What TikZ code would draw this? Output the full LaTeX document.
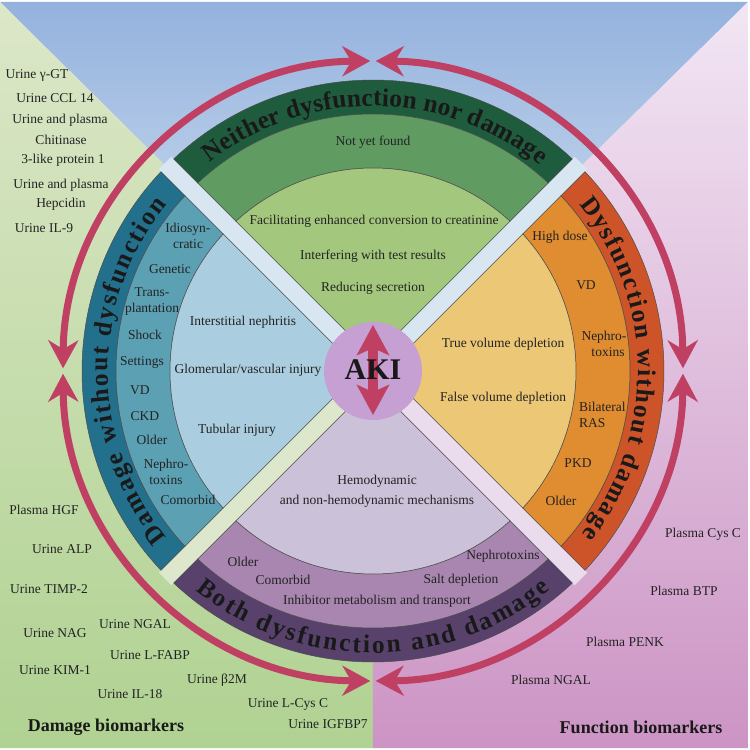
\documentclass[tikz,border=0pt]{standalone}
\usepackage{fontspec}
\setmainfont{Liberation Serif}
\usetikzlibrary{decorations.text,arrows.meta}
\definecolor{topdark}{RGB}{31,92,62}
\definecolor{topmid}{RGB}{96,155,98}
\definecolor{topin}{RGB}{163,200,125}
\definecolor{leftdark}{RGB}{35,112,140}
\definecolor{leftmid}{RGB}{92,160,180}
\definecolor{leftin}{RGB}{170,206,224}
\definecolor{rightdark}{RGB}{204,84,40}
\definecolor{rightmid}{RGB}{224,140,48}
\definecolor{rightin}{RGB}{236,200,118}
\definecolor{botdark}{RGB}{88,66,108}
\definecolor{botmid}{RGB}{168,134,176}
\definecolor{botin}{RGB}{203,193,216}
\definecolor{akifill}{RGB}{198,160,210}
\definecolor{arrowcol}{RGB}{192,64,100}
\definecolor{gapblue}{RGB}{216,230,241}
\definecolor{gapgreen}{RGB}{220,231,203}
\definecolor{gappink}{RGB}{234,219,237}
\definecolor{bgbluetop}{RGB}{148,178,222}
\definecolor{bgbluebot}{RGB}{222,234,244}
\definecolor{bggreentop}{RGB}{220,231,200}
\definecolor{bggreenbot}{RGB}{176,210,146}
\definecolor{bgpinktop}{RGB}{242,230,244}
\definecolor{bgpinkbot}{RGB}{204,148,196}
\definecolor{txt}{RGB}{35,35,35}
\newcommand\bandfont{\fontsize{25.5}{25.5}\selectfont\bfseries}
\newcommand\sectorfill[3]{%
  \path[sectorline, fill=#1] (46.77:291) arc[start angle=46.77, end angle=133.23, radius=291]
     -- (132.99:257) arc[start angle=132.99, end angle=47.01, radius=257] -- cycle;
  \path[sectorline, fill=#2] (47.01:257) arc[start angle=47.01, end angle=132.99, radius=257]
     -- (132.46:203) arc[start angle=132.46, end angle=47.54, radius=203] -- cycle;
  \path[sectorline, fill=#3] (0,12.73) -- (47.54:203) arc[start angle=47.54, end angle=132.46, radius=203] -- cycle;
}
\begin{document}
\begin{tikzpicture}[x=1pt,y=1pt,
  lbl/.style={font=\fontsize{13.5}{16}\selectfont, text=txt, align=center, inner sep=0pt},
  head/.style={font=\fontsize{18}{20}\selectfont\bfseries, text=black!90, inner sep=0pt},
  sectorline/.style={draw=black!70, line width=0.5pt},
  ring/.style={draw=arrowcol, line width=7pt,
     {Stealth[length=28pt,width=30pt,inset=9pt]}-{Stealth[length=28pt,width=30pt,inset=9pt]}},
  bandtext/.style={decorate, decoration={text along path, text align={fit to path}, text color=black!90}}
]
\useasboundingbox (-373,-379) rectangle (377,371);
\fill[white] (-373,-379) rectangle (377,371);
% background
\shade[top color=bgbluetop, bottom color=bgbluebot] (-373,369) -- (375,369) -- (0,0) -- cycle;
\shade[top color=bggreentop, bottom color=bggreenbot] (-373,369) -- (0,0) -- (0,-377) -- (-373,-377) -- cycle;
\shade[top color=bgpinktop, bottom color=bgpinkbot] (375,369) -- (0,0) -- (0,-377) -- (375,-377) -- cycle;
% gaps
\fill[gapblue, rotate=135] (0,-9) rectangle (294,9);
\fill[gapblue, rotate=45] (0,-9) rectangle (294,9);
\fill[gapgreen, rotate=225] (0,-9) rectangle (294,9);
\fill[gappink, rotate=-45] (0,-9) rectangle (294,9);
% sectors
\begin{scope}\sectorfill{topdark}{topmid}{topin}\end{scope}
\begin{scope}[rotate=90]\sectorfill{leftdark}{leftmid}{leftin}\end{scope}
\begin{scope}[rotate=180]\sectorfill{botdark}{botmid}{botin}\end{scope}
\begin{scope}[rotate=-90]\sectorfill{rightdark}{rightmid}{rightin}\end{scope}
% band texts
\path[bandtext, decoration={text={|\bandfont|Neither dysfunction nor damage}}]
  (128:265) arc[start angle=128, end angle=51, radius=265];
\path[bandtext, decoration={text={|\bandfont|Damage without dysfunction}}]
  (219:265) arc[start angle=219, end angle=141, radius=265];
\path[bandtext, decoration={text={|\bandfont|Dysfunction without damage}}]
  (39:265) arc[start angle=39, end angle=-38, radius=265];
\path[bandtext, decoration={text={|\bandfont|Both dysfunction and damage}}]
  (231:282) arc[start angle=231, end angle=309, radius=282];
% ring arrows
\coordinate (ptop) at (90:310);
\coordinate (pleft) at (180:310);
\coordinate (pbot) at (270:310);
\coordinate (pright) at (0:310);
\draw[ring] (90.5:310) arc[start angle=90.5, end angle=179.5, radius=310];
\draw[ring] (180.5:310) arc[start angle=180.5, end angle=269.5, radius=310];
\draw[ring] (270.5:310) arc[start angle=270.5, end angle=359.5, radius=310];
\draw[ring] (0.5:310) arc[start angle=0.5, end angle=89.5, radius=310];
% AKI
\node[circle, fill=akifill, minimum size=98pt, inner sep=0pt] (akic) at (0,0) {};
\coordinate (akitop) at (0,46);
\coordinate (akibot) at (0,-44);
\draw[arrowcol, line width=10pt, {Stealth[length=30pt,width=32pt,inset=7pt]}-{Stealth[length=30pt,width=32pt,inset=7pt]}] (akibot) -- (akitop);
\node[font=\fontsize{30}{30}\selectfont\bfseries, text=black!90, inner sep=0pt] (aki) at (0,1) {AKI};
% top sector texts
\node[lbl] (t1) at (0,229) {Not yet found};
\node[lbl] (t2) at (1,150) {Facilitating enhanced conversion to creatinine};
\node[lbl] (t3) at (0,115) {Interfering with test results};
\node[lbl] (t4) at (0,83) {Reducing secretion};
% left sector texts
\node[lbl] (l1) at (-185,135) {Idiosyn-\\cratic};
\node[lbl] (l2) at (-203,102) {Genetic};
\node[lbl] (l3) at (-221,69) {Trans-\\plantation};
\node[lbl] (l4) at (-228,36) {Shock};
\node[lbl] (l5) at (-231,9) {Settings};
\node[lbl] (l6) at (-233,-19) {VD};
\node[lbl] (l7) at (-228,-45) {CKD};
\node[lbl] (l8) at (-221,-69) {Older};
\node[lbl] (l9) at (-207,-101) {Nephro-\\toxins};
\node[lbl] (l10) at (-185,-129) {Comorbid};
\node[lbl] (l11) at (-130,49) {Interstitial nephritis};
\node[lbl] (l12) at (-125,1) {Glomerular/vascular injury};
\node[lbl] (l13) at (-136,-59) {Tubular injury};
% right sector texts
\node[lbl] (r1) at (187,134) {High dose};
\node[lbl] (r2) at (213,86) {VD};
\node[lbl] (r3) at (231,27) {Nephro-\\\hspace*{8pt}toxins};
\node[lbl, align=left, anchor=west] (r4) at (206,-44) {Bilateral\\RAS};
\node[lbl] (r5) at (205,-92) {PKD};
\node[lbl] (r6) at (188,-130) {Older};
\node[lbl] (r7) at (130,27) {True volume depletion};
\node[lbl] (r8) at (130,-27) {False volume depletion};
% bottom sector texts
\node[lbl] (b1) at (4,-110) {Hemodynamic};
\node[lbl] (b2) at (4,-130) {and non-hemodynamic mechanisms};
\node[lbl] (b3) at (-130,-191) {Older};
\node[lbl] (b4) at (-90,-209) {Comorbid};
\node[lbl] (b5) at (4,-230) {Inhibitor metabolism and transport};
\node[lbl] (b6) at (88,-209) {Salt depletion};
\node[lbl] (b7) at (130,-185) {Nephrotoxins};
% damage biomarkers
\node[lbl] (d1) at (-336,296) {Urine γ-GT};
\node[lbl] (d2) at (-318,273) {Urine CCL 14};
\node[lbl] (d3) at (-313,251) {Urine and plasma};
\node[lbl] (d4) at (-312,231) {Chitinase};
\node[lbl] (d5) at (-310,211) {3-like protein 1};
\node[lbl] (d6) at (-312,186) {Urine and plasma};
\node[lbl] (d7) at (-312,167) {Hepcidin};
\node[lbl] (d8) at (-329,143) {Urine IL-9};
\node[lbl] (d9) at (-329,-139) {Plasma HGF};
\node[lbl] (d10) at (-311,-178) {Urine ALP};
\node[lbl] (d11) at (-324,-218) {Urine TIMP-2};
\node[lbl] (d12) at (-318,-262) {Urine NAG};
\node[lbl] (d13) at (-238,-253) {Urine NGAL};
\node[lbl] (d14) at (-223,-284) {Urine L-FABP};
\node[lbl] (d15) at (-318,-299) {Urine KIM-1};
\node[lbl] (d16) at (-156,-309) {Urine β2M};
\node[lbl] (d17) at (-243,-323) {Urine IL-18};
\node[lbl] (d18) at (-85,-333) {Urine L-Cys C};
\node[lbl] (d19) at (-45,-353) {Urine IGFBP7};
\node[head] (dh) at (-267,-356) {Damage biomarkers};
% function biomarkers
\node[lbl] (f1) at (330,-163) {Plasma Cys C};
\node[lbl] (f2) at (311,-220) {Plasma BTP};
\node[lbl] (f3) at (252,-271) {Plasma PENK};
\node[lbl] (f4) at (178,-309) {Plasma NGAL};
\node[head] (fh) at (268,-356) {Function biomarkers};
\end{tikzpicture}
\end{document}
